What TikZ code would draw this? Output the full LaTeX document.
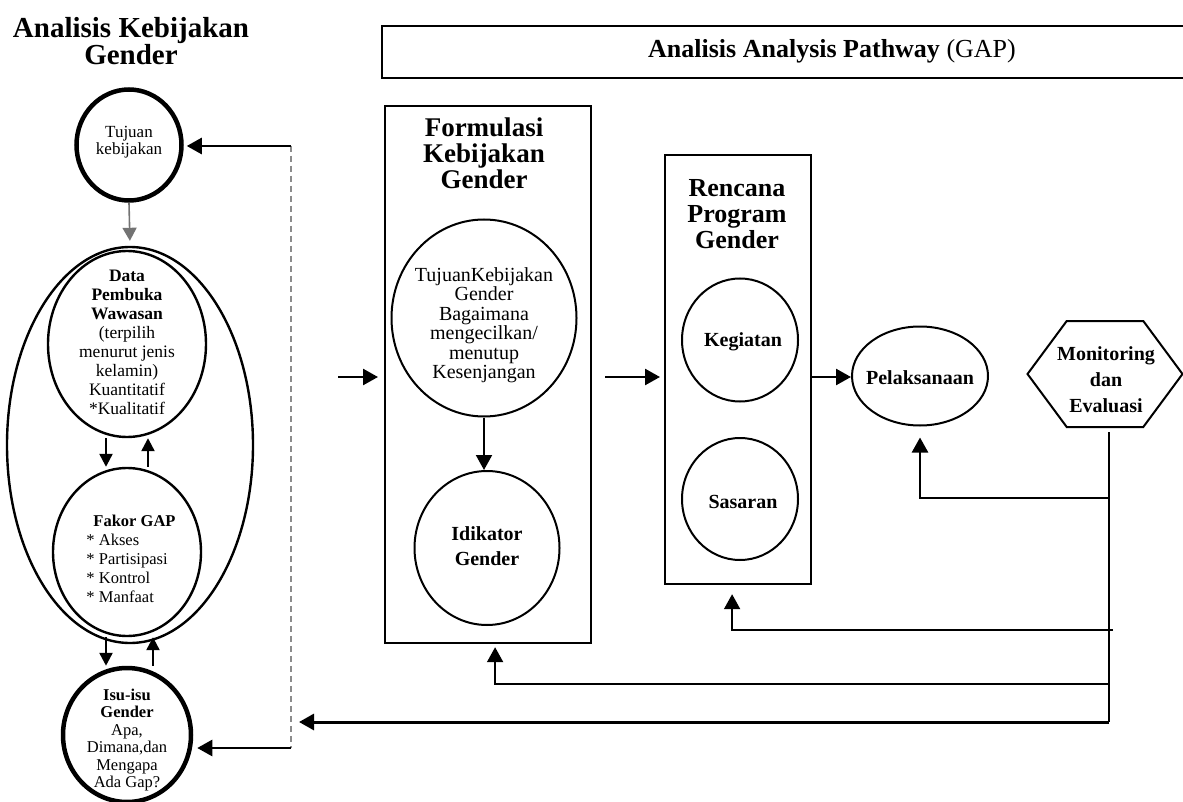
\documentclass[tikz,border=0pt]{standalone}
\usepackage{fontspec}
\setmainfont{Liberation Serif}
\usetikzlibrary{arrows.meta,shapes.geometric,shapes.symbols,positioning}

\begin{document}
\begin{tikzpicture}[x=1pt,y=-1pt,
    bub/.style={ellipse,draw,line width=2pt,inner sep=0pt},
    fatbub/.style={ellipse,draw,line width=4.5pt,inner sep=0pt},
    frame/.style={rectangle,draw,line width=2.2pt,inner sep=0pt,anchor=north west},
    txt/.style={align=center,inner sep=0pt},
    arr/.style={line width=2.6pt,-{Triangle[length=15pt,width=16pt]}},
    smallarr/.style={line width=2.4pt,-{Triangle[length=13pt,width=13pt]}},
    garr/.style={line width=1.6pt,draw=black!55,-{Triangle[length=13pt,width=14pt]}},
    dashline/.style={line width=1.3pt,draw=black!45,dash pattern=on 6pt off 4pt},
    fbline/.style={line width=2pt}]
  \useasboundingbox (0,0) rectangle (1183,802);

  % left column
  \node[txt,font=\fontsize{29}{25}\selectfont\bfseries] (kbttl) at (131,41) {Analisis Kebijakan\\Gender};
  \node[fatbub,minimum width=105,minimum height=111] (tujuan) at (129,145) {};
  \node[txt,font=\fontsize{17}{17}\selectfont] (tujuan-t) at (129,142) {Tujuan\\kebijakan};

  \node[bub,line width=2.4pt,minimum width=246,minimum height=396] (grp) at (130,445) {};
  \node[bub,line width=2.4pt,minimum width=158,minimum height=186] (data) at (127,344) {};
  \node[txt,font=\fontsize{17.5}{19}\selectfont] (data-t) at (127,342) {\textbf{Data}\\\textbf{Pembuka}\\\textbf{Wawasan}\\(terpilih\\menurut jenis\\kelamin)\\Kuantitatif\\*Kualitatif};
  \node[bub,line width=2.4pt,minimum width=148,minimum height=168] (fakor) at (127,552) {};
  \node[txt,align=left,font=\fontsize{16.5}{19}\selectfont] (fakor-t) at (131,559) {\hspace*{7pt}\textbf{Fakor GAP}\\* Akses\\* Partisipasi\\* Kontrol\\* Manfaat};
  \node[fatbub,minimum width=128,minimum height=134] (isu) at (127,735) {};
  \node[txt,font=\fontsize{16.5}{17.5}\selectfont] (isu-t) at (127,740) {\textbf{Isu-isu}\\\textbf{Gender}\\Apa,\\Dimana,dan\\Mengapa\\Ada Gap?};

  \draw[garr,shorten >=5pt] (tujuan.south) -- (grp.north);
  \draw[smallarr] ([xshift=-21pt]data.south) -- ([xshift=-21pt]fakor.north);
  \draw[smallarr] ([xshift=21pt]fakor.north) -- ([xshift=21pt]data.south);
  \draw[smallarr] ([xshift=-21pt]fakor.south) -- ([xshift=-21pt]isu.north);
  \draw[smallarr] ([xshift=26pt]isu.north) -- ([xshift=26pt]fakor.south);

  \coordinate (dtop) at (291,146);
  \coordinate (dbot) at (291,748);
  \draw[dashline] (dtop) -- (dbot);
  \draw[arr,shorten >=3pt] (dtop) -- (dtop -| tujuan.east);
  \draw[arr,shorten >=4pt] (dbot) -- (dbot -| isu.east);

  % pathway
  \node[frame,minimum width=812,minimum height=52] (gapbox) at (381,25) {};
  \node[txt,font=\fontsize{26}{26}\selectfont] (gap-t) at (832,51) {\textbf{Analisis Analysis Pathway} (GAP)};

  \coordinate (lvl) at (0,377);
  \coordinate (fin) at (338,377);

  \node[frame,minimum width=206,minimum height=537] (form) at (384,105) {};
  \node[txt,font=\fontsize{27}{26}\selectfont\bfseries] (form-t) at (484,153) {Formulasi\\Kebijakan\\Gender};
  \node[bub,minimum width=185,minimum height=197] (tkg) at (484,318) {};
  \node[txt,font=\fontsize{20}{19.5}\selectfont] (tkg-t) at (484,325) {TujuanKebijakan\\Gender\\Bagaimana\\mengecilkan/\\menutup\\Kesenjangan};
  \node[bub,minimum width=145,minimum height=154] (ind) at (487,548) {};
  \node[txt,font=\fontsize{20}{25}\selectfont\bfseries] (ind-t) at (487,546) {Idikator\\Gender};
  \draw[arr,line width=2pt] (tkg.south) -- (tkg.south |- ind.north);

  \node[frame,minimum width=146,minimum height=429] (ren) at (664,154) {};
  \node[txt,font=\fontsize{26}{26}\selectfont\bfseries] (ren-t) at (737,214) {Rencana\\Program\\Gender};
  \node[bub,minimum width=116,minimum height=123] (keg) at (740,340) {};
  \node[txt,font=\fontsize{20}{20}\selectfont\bfseries] (keg-t) at (743,342) {Kegiatan};
  \node[bub,minimum width=116,minimum height=122] (sas) at (740,499) {};
  \node[txt,font=\fontsize{20}{20}\selectfont\bfseries] (sas-t) at (743,502) {Sasaran};

  \node[bub,minimum width=136,minimum height=99] (pel) at (920,376) {};
  \node[txt,font=\fontsize{20}{20}\selectfont\bfseries] (pel-t) at (920,378) {Pelaksanaan};

  \node[signal,signal to=east and west,signal pointer angle=107,draw,line width=2pt,inner sep=0pt,
        minimum width=155,minimum height=106] (mon) at (1105,374) {};
  \node[txt,font=\fontsize{20}{26}\selectfont\bfseries] (mon-t) at (1106,380) {Monitoring\\dan\\Evaluasi};

  \draw[arr] (fin) -- (fin -| form.west) [shorten >=6pt];
  \draw[arr,shorten >=4pt] ([xshift=13pt]form.east |- lvl) -- (ren.west |- lvl);
  \draw[arr] (ren.east |- lvl) -- (pel.west |- lvl);

  % feedback from monitoring
  \coordinate (mtop) at (1109,432);
  \coordinate (fb1) at (1109,498);
  \coordinate (fb2) at (1113,630);
  \coordinate (fb3) at (1109,684);
  \coordinate (mbot) at (1109,722);
  \draw[fbline] (mtop) -- (mbot);
  \draw[arr,line width=2.4pt] (fb1) -| ([yshift=-11pt]pel.south);
  \draw[arr,line width=2pt] (fb2) -| ([xshift=-6pt,yshift=-9pt]ren.south);
  \draw[arr,line width=2pt] (fb3) -| ([xshift=7pt,yshift=-3pt]form.south);
  \draw[arr,line width=3pt,shorten >=8pt] (mbot) -- (mbot -| dbot);
\end{tikzpicture}
\end{document}
